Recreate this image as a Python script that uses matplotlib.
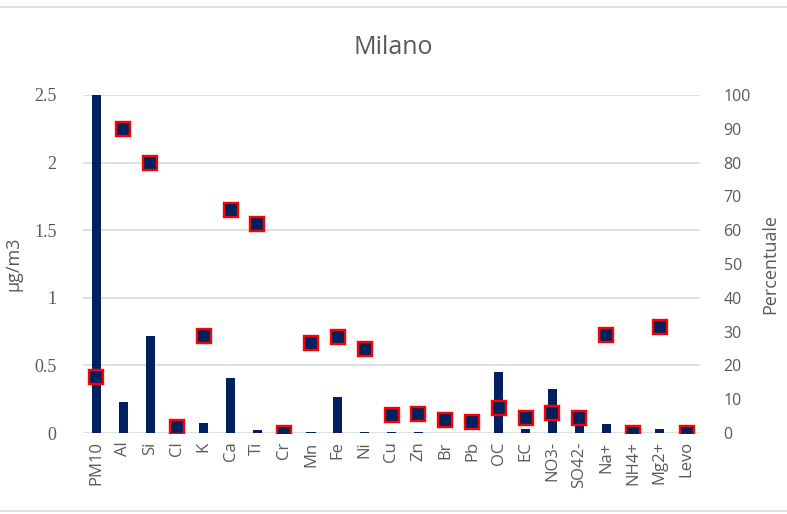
"""
Milano: concentrazioni (barre) e percentuale (quadrati)
"""

import matplotlib.pyplot as plt
from matplotlib.lines import Line2D

plt.rcParams['font.family'] = ['Open Sans', 'DejaVu Sans']

species = ['PM10', 'Al', 'Si', 'Cl', 'K', 'Ca', 'Ti', 'Cr', 'Mn', 'Fe', 'Ni', 'Cu',
           'Zn', 'Br', 'Pb', 'OC', 'EC', 'NO3-', 'SO42-', 'Na+', 'NH4+', 'Mg2+', 'Levo']
conc = [2.5, 0.23, 0.72, 0.0, 0.072, 0.405, 0.02, 0.0, 0.005, 0.265, 0.005, 0.005,
        0.005, 0.003, 0.003, 0.45, 0.027, 0.325, 0.12, 0.064, 0.0, 0.027, 0.0]
percent = [16.5, 90.0, 80.0, 1.7, 28.7, 66.0, 61.7, 0.0, 26.7, 28.5, 24.8, 5.2,
           5.5, 3.8, 3.2, 7.5, 4.3, 5.8, 4.3, 29.0, 0.0, 31.5, 0.0]

NAVY = '#002060'
GREY = '#595959'
GRID = '#d9d9d9'

fig = plt.figure(figsize=(7.87, 5.14), dpi=100)
ax = fig.add_axes([83 / 787, 1 - 433 / 514, 617 / 787, 338 / 514])
ax2 = ax.twinx()

x = list(range(len(species)))
ax.bar(x, conc, width=0.34, color=NAVY, zorder=2)
ax2.plot(x, percent, linestyle='none', marker='s', markersize=9.5,
         markerfacecolor=NAVY, markeredgecolor='#ff0000', markeredgewidth=1.7, zorder=3)

ax.set_xlim(-0.5, len(species) - 0.5)
ax.set_ylim(0, 2.5)
ax2.set_ylim(0, 100)
ax.set_yticks([0, 0.5, 1, 1.5, 2, 2.5])
ax.set_yticklabels(['0', '0.5', '1', '1.5', '2', '2.5'], family='Liberation Serif')
ax2.set_yticks(range(0, 101, 10))

ax.grid(axis='y', color=GRID, linewidth=1.2, zorder=0)
ax.set_axisbelow(True)
for a in (ax, ax2):
    for s in a.spines.values():
        s.set_visible(False)

ax.set_xticks(x)
ax.set_xticklabels(species, rotation=90, fontsize=12, color=GREY)
ax.tick_params(axis='x', length=0, pad=6)
ax.tick_params(axis='y', length=0, pad=19, labelsize=13, labelcolor=GREY)
ax2.tick_params(axis='y', length=0, pad=17, labelsize=11.5, labelcolor=GREY)

ax.set_ylabel('µg/m3', fontsize=13, color=GREY)
ax.yaxis.set_label_coords((22 - 83) / 617, 0.5)
ax2.set_ylabel('Percentuale', fontsize=13, color=GREY)
ax2.yaxis.set_label_coords((761 - 83) / 617, 0.5)
fig.text(0.5, 1 - 47 / 514, 'Milano', ha='center', va='center', fontsize=18, color=GREY)

# chart border lines
fig.add_artist(Line2D([0, 1], [1 - 7 / 514, 1 - 7 / 514], color=GRID, linewidth=1.2))
fig.add_artist(Line2D([0, 1], [1 - 511 / 514, 1 - 511 / 514], color=GRID, linewidth=1.2))

fig.savefig('out.png', dpi=100)
